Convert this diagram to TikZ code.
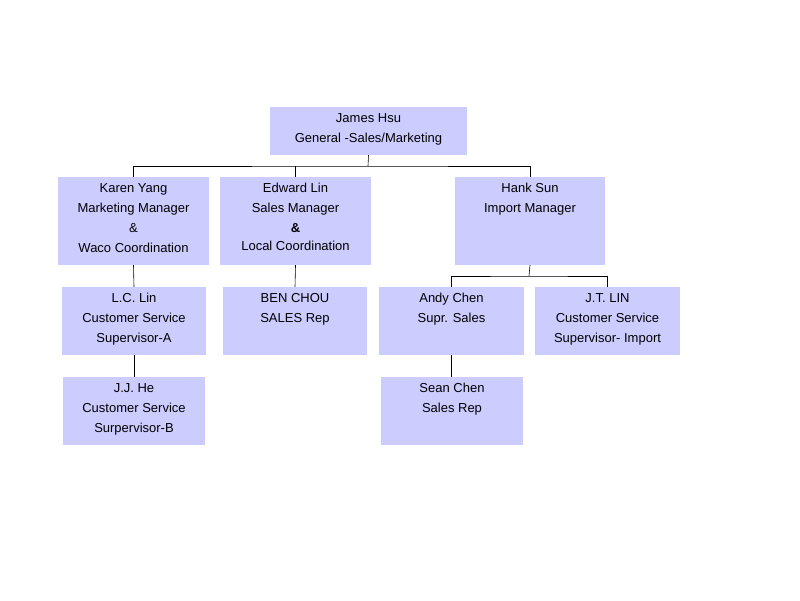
\documentclass[tikz,border=0pt]{standalone}
\usepackage{fontspec}
\setmainfont{Liberation Sans}
\definecolor{boxfill}{HTML}{CCCCFF}
\begin{document}
\begin{tikzpicture}[x=1pt,y=-1pt,
  boxst/.style={fill=boxfill,draw=none,inner sep=0pt},
  txt/.style={anchor=north,align=center,inner sep=0pt,font=\fontsize{13}{20}\selectfont},
  conn/.style={draw=black,line width=0.6pt}]
\useasboundingbox (0,0) rectangle (800,600);
\newcommand\bx[6]{%
  \node[boxst,minimum width={#4-#2},minimum height={#5-#3}] (#1) at ({(#2+#4)/2},{(#3+#5)/2}) {};
  \node[txt] (#1t) at ({(#2+#4)/2},{#3+6}) {#6};}
\bx{james}{270}{107}{467}{155}{James Hsu\\General -Sales/Marketing}
\bx{karen}{58}{177}{209}{265}{Karen Yang\\Marketing Manager\\\&\\Waco Coordination}
\bx{edward}{220}{177}{371}{265}{Edward Lin\\Sales Manager\\\textbf{\&}\\[-2pt]Local Coordination}
\bx{hank}{455}{177}{605}{265}{Hank Sun\\Import Manager}
\bx{lc}{62}{287}{206}{355}{L.C. Lin\\Customer Service\\Supervisor-A}
\bx{ben}{223}{287}{367}{355}{BEN CHOU\\SALES Rep}
\bx{andy}{379}{287}{524}{355}{Andy Chen\\Supr. Sales}
\bx{jt}{535}{287}{680}{355}{J.T. LIN\\Customer Service\\Supervisor- Import}
\bx{jj}{63}{377}{205}{445}{J.J. He\\Customer Service\\Surpervisor-B}
\bx{sean}{381}{377}{523}{445}{Sean Chen\\Sales Rep}
\coordinate (b1) at (368,166);
\coordinate (b2) at (529,276);
\draw[conn] (james.south) -- (b1);
\draw[conn] (karen.north) |- (b1) -| (hank.north);
\draw[conn] (edward.north) -- (edward.north |- b1);
\draw[conn] (karen.south) -- (lc.north);
\draw[conn] (lc.south) -- (jj.north);
\draw[conn] (edward.south) -- (ben.north);
\draw[conn] (hank.south) -- (b2);
\draw[conn] (andy.north) |- (b2) -| (jt.north);
\draw[conn] (andy.south) -- (andy.south |- sean.north);
\end{tikzpicture}
\end{document}
